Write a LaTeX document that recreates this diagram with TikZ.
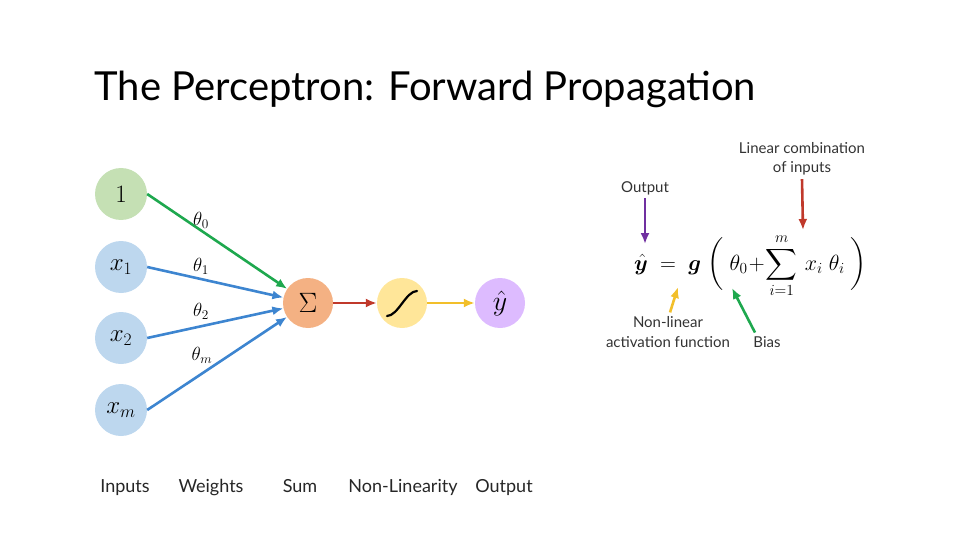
\RequirePackage{fix-cm}
\documentclass[tikz,border=0pt]{standalone}
\usepackage{amsmath}
\usepackage{amssymb}
\usepackage{bm}
\usepackage{fontspec}
\setmainfont{Lato}
\usepackage{xcolor}
\usetikzlibrary{arrows.meta}
\usetikzlibrary{positioning}

\definecolor{biasfill}{HTML}{C5E0B4}
\definecolor{inputfill}{HTML}{BDD7EE}
\definecolor{sumfill}{HTML}{F4B183}
\definecolor{actfill}{HTML}{FFE699}
\definecolor{outfill}{HTML}{DDBBFF}
\definecolor{wgreen}{HTML}{1EA84E}
\definecolor{wblue}{HTML}{3D85D0}
\definecolor{wred}{HTML}{C0392B}
\definecolor{wyellow}{HTML}{F2BF2A}
\definecolor{wpurple}{HTML}{7030A0}

\begin{document}
\begin{tikzpicture}[
    x=1pt, y=-1pt,
    >={Latex[length=11pt, width=9pt]},
    unit/.style={circle, minimum size=52pt, inner sep=0pt, font=\fontsize{25}{25}\selectfont},
    stage/.style={circle, minimum size=50pt, inner sep=0pt, font=\fontsize{28}{28}\selectfont},
    wire/.style={->, line width=2.6pt},
    caption/.style={anchor=base, font=\fontsize{18}{18}\selectfont, text=black!85},
    note/.style={anchor=base, align=center, font=\fontsize{15}{20}\selectfont, text=black!80},
    weight/.style={font=\fontsize{19}{19}\selectfont}
]
\useasboundingbox (0,0) rectangle (960,540);

% Title :
\node[anchor=base west, font=\fontsize{40}{40}\selectfont] (title) at (91,101) {The Perceptron: Forward Propagation};

% Nodes :
\node[unit, fill=biasfill]  (one) at (121,194) {$1$};
\node[unit, fill=inputfill] (x1)  at (121,267) {$x_1$};
\node[unit, fill=inputfill] (x2)  at (121,338) {$x_2$};
\node[unit, fill=inputfill] (xm)  at (121,410) {$x_m$};

\node[stage, fill=sumfill]  (sum) at (308,303) {$\Sigma$};
\node[stage, fill=actfill]  (act) at (402,303) {};
\node[stage, fill=outfill]  (out) at (500,303) {$\hat{y}$};

\draw[line width=2.2pt, line cap=round] (act.center) ++(-15,13)
    .. controls +(11,0) and +(-11,0) .. ++(30,-25);

% Weights :
\draw[wire, wgreen] (one.east) -- (sum);
\draw[wire, wblue]  (x1.east)  -- (sum);
\draw[wire, wblue]  (x2.east)  -- (sum);
\draw[wire, wblue]  (xm.east)  -- (sum);
\draw[wire, wred]   (sum) -- (act);
\draw[wire, wyellow] (act) -- (out);

\node[weight] (w0) at (201,220) {$\theta_0$};
\node[weight] (w1) at (201,266) {$\theta_1$};
\node[weight] (w2) at (201,311) {$\theta_2$};
\node[weight] (wm) at (202,355) {$\theta_m$};

% Captions :
\node[caption] (cin)  at (125,492) {Inputs};
\node[caption] (cw)   at (211,492) {Weights};
\node[caption] (csum) at (300,492) {Sum};
\node[caption] (cact) at (403,492) {Non-Linearity};
\node[caption] (cout) at (504,492) {Output};

% Equation :
\node[anchor=base west, inner sep=0pt, font=\fontsize{22}{22}\selectfont] (eq) at (634,270)
    {$\hat{\bm{y}}\;=\;\bm{g}\;\bigg(\;\theta_0\!+\!\displaystyle\sum_{i=1}^{m}\,x_i\;\theta_i\;\bigg)$};

\coordinate (ytip)    at (645,244);
\coordinate (sumtip)  at (803,230);
\coordinate (gtip)    at (678,287);
\coordinate (biastip) at (732,288);

\node[note] (lout)  at (645,192) {Output};
\node[note] (llin)  at (802,173) {Linear combination\\of inputs};
\node[note] (lact)  at (668,347) {Non-linear\\activation function};
\node[note] (lbias) at (767,347) {Bias};

\draw[wire, wpurple] (lout.south) -- (ytip);
\draw[wire, wred]    (llin.south) -- (sumtip);
\draw[wire, wyellow] ([xshift=2pt]lact.north) -- (gtip);
\draw[wire, wgreen]  ([xshift=-12pt]lbias.north) -- (biastip);

\end{tikzpicture}
\end{document}
